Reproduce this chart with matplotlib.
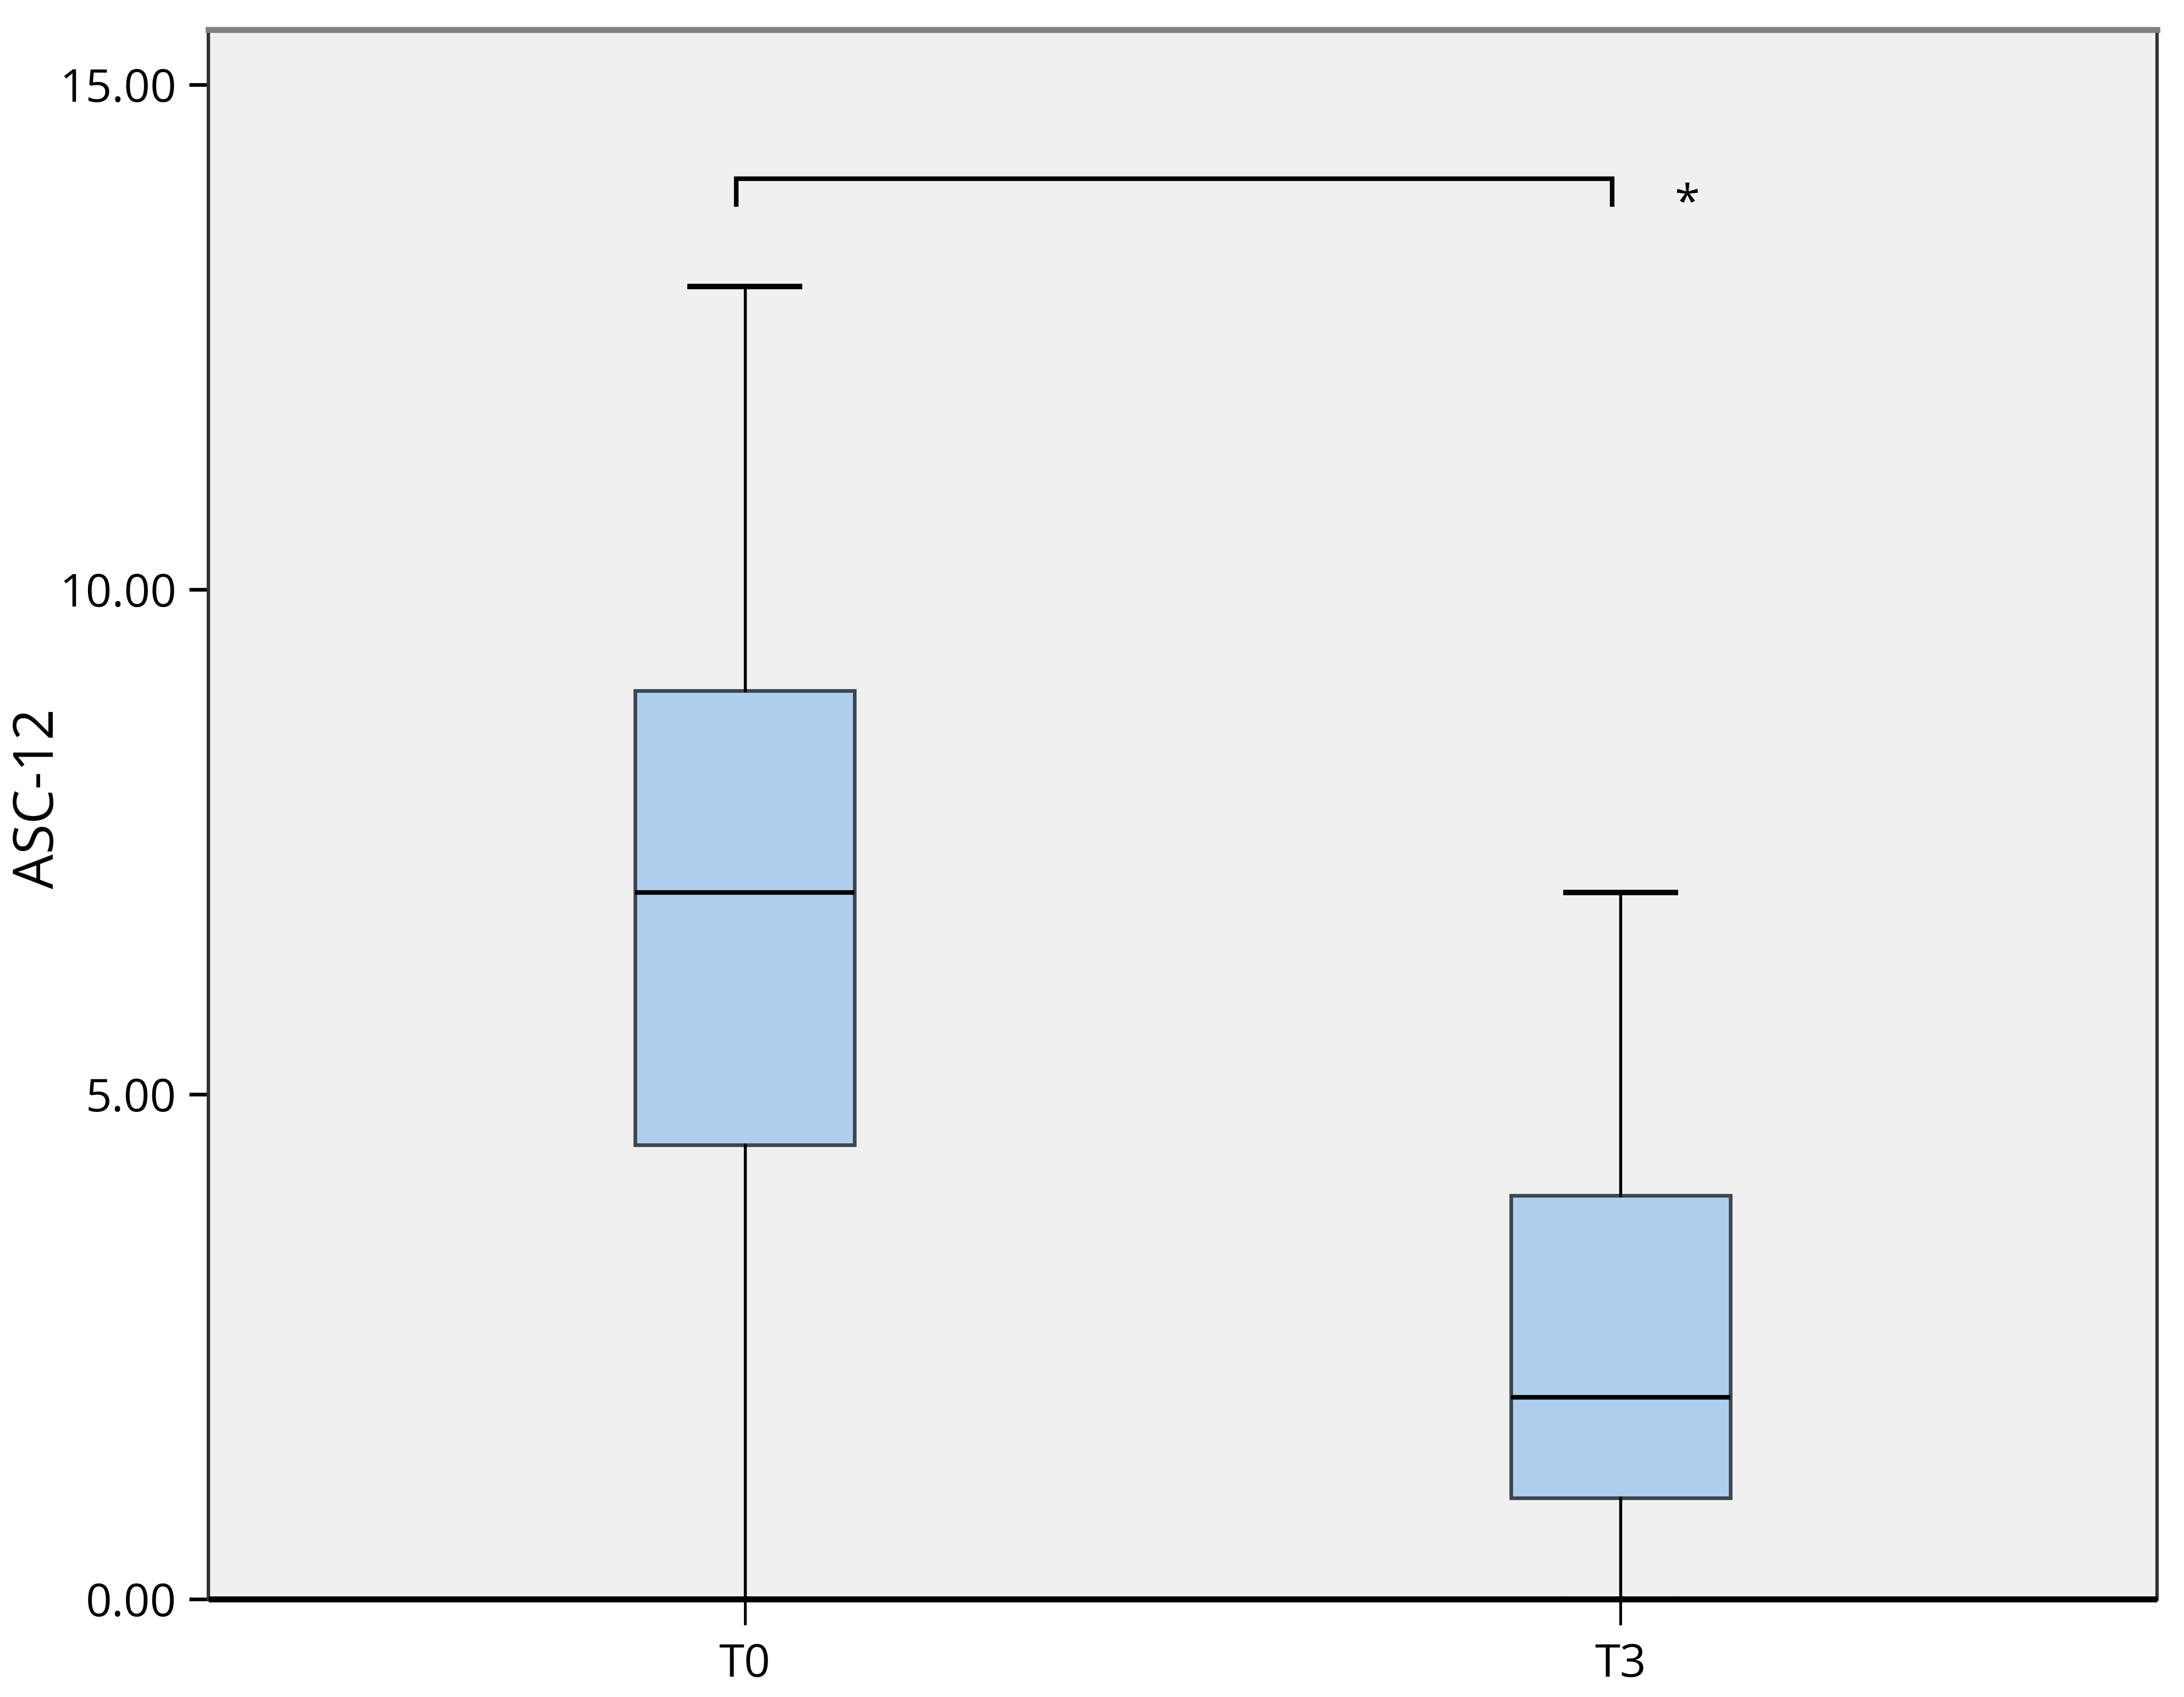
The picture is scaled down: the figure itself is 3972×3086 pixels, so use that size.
import matplotlib
matplotlib.use('Agg')
import matplotlib.pyplot as plt

# box statistics (ASC-12 scores)
groups = ['T0', 'T3']
whisker_low = [0.0, 0.0]
q1 = [4.5, 1.0]
medians = [7.0, 2.0]
q3 = [9.0, 4.0]
whisker_high = [13.0, 7.0]

y_ticks = [0, 5, 10, 15]

# significance bracket between T0 and T3
bracket_x = [0.99, 0.99, 1.99, 1.99]
bracket_y = [13.79, 14.07, 14.07, 13.79]
star_x = 2.076
star_y = 13.86

plt.rcParams['font.family'] = ['Open Sans', 'DejaVu Sans']

fig = plt.figure(figsize=(13.24, 10.2867), dpi=300)
ax = fig.add_axes([0.0954, 0.0577, 0.8923, 0.9248])
ax.set_facecolor('#f0f0f0')

stats = []
for i, name in enumerate(groups):
    stats.append({'label': name, 'whislo': whisker_low[i], 'q1': q1[i],
                  'med': medians[i], 'q3': q3[i], 'whishi': whisker_high[i],
                  'fliers': []})

positions = list(range(1, len(groups) + 1))
ax.bxp(stats, positions=positions, widths=0.251, capwidths=0.125,
       patch_artist=True, showfliers=False,
       boxprops=dict(facecolor='#aecfee', edgecolor='#3d4650', linewidth=1.6),
       medianprops=dict(color='black', linewidth=2.0),
       whiskerprops=dict(color='black', linewidth=1.3),
       capprops=dict(color='black', linewidth=2.4))

ax.plot(bracket_x, bracket_y, color='black', linewidth=2.0,
        solid_joinstyle='miter', solid_capstyle='butt')
ax.text(star_x, star_y, '*', fontsize=20, ha='center', va='center_baseline')

ax.set_xlim(0.3875, 2.6125)
ax.set_ylim(0, 15.545)
ax.set_xticks(positions)
ax.set_xticklabels(groups)
ax.set_yticks(y_ticks)
ax.set_yticklabels(['%.2f' % v for v in y_ticks])

ax.tick_params(axis='x', length=11.3, width=1.2, pad=7.5, labelsize=20)
ax.tick_params(axis='y', length=8.4, width=1.6, pad=5.5, labelsize=20)

ax.set_ylabel('ASC-12', fontsize=24)
ax.yaxis.label.set(va='center', ha='center', rotation_mode='anchor')
ax.yaxis.set_label_coords(-0.087, 0.51)

ax.spines['top'].set_color('#808080')
ax.spines['top'].set_linewidth(2.6)
ax.spines['bottom'].set_color('black')
ax.spines['bottom'].set_linewidth(2.6)
ax.spines['bottom'].set_zorder(5)
ax.spines['bottom'].set_capstyle('butt')
ax.spines['left'].set_color('#333333')
ax.spines['left'].set_linewidth(1.5)
ax.spines['right'].set_color('#333333')
ax.spines['right'].set_linewidth(1.5)

fig.savefig('out.png', dpi=300, facecolor='white')
